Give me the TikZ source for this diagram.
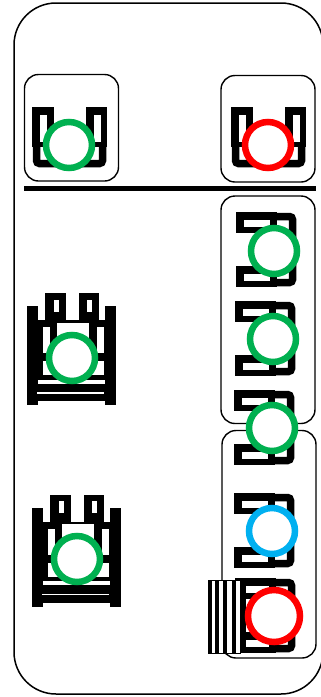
\documentclass[tikz,border=0pt]{standalone}
\usepackage{tikz}
\definecolor{ringgreen}{RGB}{0,176,80}
\definecolor{ringblue}{RGB}{0,176,240}
\tikzset{
  box/.style={draw=black,line width=1.4pt,rounded corners=14pt},
  ring/.style={draw=#1,fill=white,line width=6.5pt},
  yoke/.style={line width=7.5pt,rounded corners=3pt},
  hole/.style={fill=white,draw=none},
  upunit/.pic={
    \fill (0,0) rectangle (22,40);
    \fill (54,0) rectangle (75,40);
    \fill[hole] (7.5,7.5) rectangle (14.5,34.5);
    \fill[hole] (61.5,7.5) rectangle (68.5,34.5);
    \draw[yoke] (4.5,39) -- (4.5,56.5) -- (70.5,56.5) -- (70.5,39);
  },
  sideunit/.pic={
    \fill (0,0) rectangle (41,21);
    \fill (0,54) rectangle (41,75);
    \fill[hole] (7.5,7.5) rectangle (34,14.5);
    \fill[hole] (7.5,61.5) rectangle (34,68.5);
    \draw[yoke] (40,4.5) -- (56.5,4.5) -- (56.5,70.5) -- (40,70.5);
  },
  tower/.pic={
    \fill (0,13) rectangle (11,112);
    \fill (78,13) rectangle (89,112);
    \fill (11,27) rectangle (78,108);
    \fill (18,0) rectangle (39,27);
    \fill (52,0) rectangle (72,27);
    \fill[hole] (26.5,6.5) rectangle (31.5,18.5);
    \fill[hole] (59.5,6.5) rectangle (64.5,18.5);
    \fill[hole] (30,29.5) rectangle (62,50);
    \fill[hole] (16,34) rectangle (23,60);
    \fill[hole] (70,34) rectangle (77,60);
    \fill[hole] (16,68) rectangle (77,82);
    \fill[hole] (11,86.5) rectangle (78,90.5);
    \fill[hole] (10,99.3) rectangle (77,100.7);
  },
}
\begin{document}
\begin{tikzpicture}[x=1pt,y=-1pt]
    \useasboundingbox (0,0) rectangle (321,697);
    \fill[white] (0,0) rectangle (321,697);

    % outer frame
    \draw[line width=1.5pt,rounded corners=42pt] (14,3) rectangle (323,694);

    % frames of the groups
    \draw[box] (24.5,74.5) rectangle (118.5,181);
    \draw[box] (221,75.5) rectangle (315,182);
    \draw[box] (221,196) rectangle (315,423.5);
    \draw[box] (222,430.5) rectangle (316,658);

    % separator
    \draw[line width=5pt] (24,188.3) -- (316,188.3);

    % units on top
    \pic at (32,107) {upunit};
    \pic at (231,107) {upunit};

    % towers on the left
    \pic at (27,293) {tower};
    \pic at (32,494.5) {tower};

    % units on the right
    \foreach \x/\y in {236/212, 235/301, 234/390, 234/493, 235/578}
        \pic at (\x,\y) {sideunit};

    % striped block
    \fill[white] (208.5,580) rectangle (240,653);
    \draw[line width=1pt] (208.5,580) rectangle (240,653);
    \foreach \x in {210,217,225.3,233.8}
        \draw[line width=4pt] (\x,580) -- (\x,653);
    \fill (240,578) rectangle (246,653);

    % rings
    \foreach \x/\y/\c in {69/145/ringgreen, 72/358/ringgreen, 77/559/ringgreen,
                          274/251/ringgreen, 273/339/ringgreen, 272/428/ringgreen,
                          272/531/ringblue}
        \draw[ring=\c] (\x,\y) circle (23);
    \draw[ring=red] (268,145) circle (23);
    \draw[ring=red] (274,616) circle (26);
\end{tikzpicture}
\end{document}
